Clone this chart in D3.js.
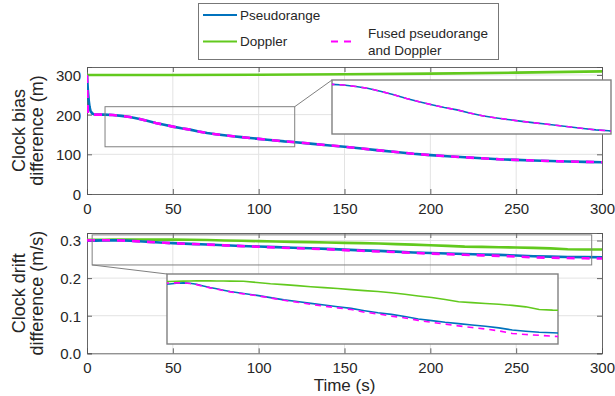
<!DOCTYPE html>
<html><head><meta charset="utf-8">
<script src="https://cdn.jsdelivr.net/npm/d3@7"></script>
<style>body{margin:0;background:#fff}svg{display:block;font-family:"Liberation Sans",Arial,Helvetica,sans-serif}</style>
</head><body><svg id="c" width="615" height="396"></svg>
<script>
// ---------- data ----------
const timeBias = [0,0.5,1,1.5,2,3,4,6,10,15,20,25,30,35,40,45,50,55,60,65,70,75,80,85,90,95,100,105,110,115,120,130,140,150,160,170,180,190,200,210,220,230,240,250,260,270,280,290,300];
const biasPseudorange = [300,262,236,219,210,203,201,200,200,199,196.8,193.8,189.5,184.5,179,174.3,169.8,165.6,162.2,157.6,153.6,150.6,148,145.5,143.3,141.2,139,136.8,134.6,132.6,131.2,127,123,119,114.5,110,106,101.5,98,95,92.5,90,87.5,86,84.5,83,82,81,80];
const biasFused = [300,204,201,200,200,200,200,200,200,199,196.8,193.8,189.5,184.5,179,174.3,169.8,165.6,162.2,157.6,153.6,150.6,148,145.5,143.3,141.2,139,136.8,134.6,132.6,131.2,127,123,119,114.5,110,106,101.5,98,95,92.5,90,87.5,86,84.5,83,82,81,80];
const timeBiasDoppler = [0,50,100,150,200,250,300];
const biasDoppler = [300,300,300.6,301.6,303.2,305.8,309];

const timeDrift = [0,5,10,15,20,25,30,35,40,45,50,60,70,80,90,100,110,120,130,140,150,160,170,180,190,200,210,220,230,240,250,260,270,280,290,300];
const driftPseudorange = [0.2997,0.2998,0.3005,0.3008,0.3004,0.2995,0.298,0.2966,0.2955,0.2942,0.293,0.2912,0.2895,0.2875,0.2855,0.284,0.2823,0.2808,0.2793,0.2778,0.2757,0.2738,0.2724,0.2705,0.2682,0.2668,0.2653,0.2641,0.2628,0.2617,0.2602,0.2583,0.2572,0.2563,0.2558,0.2553];
const driftFused = [0.3005,0.3007,0.3008,0.3008,0.3002,0.2992,0.2977,0.2963,0.2952,0.2939,0.2927,0.2909,0.2892,0.2872,0.2851,0.2834,0.2815,0.2798,0.2783,0.2768,0.2744,0.2728,0.2708,0.2692,0.267,0.2652,0.2637,0.262,0.2606,0.2592,0.2575,0.2552,0.2543,0.2535,0.2527,0.2522];
const driftDoppler = [0.302,0.3021,0.3022,0.3024,0.3025,0.3026,0.3026,0.3026,0.3025,0.3025,0.3024,0.3022,0.3012,0.3,0.2992,0.2983,0.2973,0.2965,0.2957,0.2947,0.2938,0.293,0.2919,0.2905,0.289,0.2876,0.2858,0.2838,0.283,0.2822,0.2815,0.2805,0.2792,0.2768,0.2762,0.276];

const xTicks = [0,50,100,150,200,250,300];
const biasTicks = [0,100,200,300];
const driftTicks = [0,0.1,0.2,0.3];
const legendLabels = ["Pseudorange","Doppler",["Fused pseudorange","and Doppler"]];
const biasLabel = ["Clock bias","difference (m)"];
const driftLabel = ["Clock drift","difference (m/s)"];
const xLabel = "Time (s)";

// zoom regions (data coords) and inset domains
const biasZoomX = [10.5,121], biasZoomY = [119,220], biasInsetY = [126.5,206.4];
const driftZoomX = [3,294], driftZoomY = [0.235,0.315], driftInsetY = [0.2457,0.3088];

// ---------- styles ----------
const BLUE = "#0072BD", GREEN = "#62c91e", MAG = "#ff00ff";
const svg = d3.select("#c");
const axisCol = "#555", textCol = "#262626", gridCol = "#e3e3e3", boxCol = "#808080";

function panel(cfg){
  const {top,bottom,yDomain,yTicks,yFmt,series,label,zoomX,zoomY,insetBox,insetY,connect} = cfg;
  const x = d3.scaleLinear().domain([0,300]).range([87,602]);
  const y = d3.scaleLinear().domain(yDomain).range([bottom,top]);
  const g = svg.append("g");
  // grid
  g.append("g").selectAll("line").data(xTicks.slice(1,-1)).join("line")
    .attr("x1",d=>x(d)).attr("x2",d=>x(d)).attr("y1",top).attr("y2",bottom)
    .attr("stroke",gridCol).attr("stroke-width",1);
  g.append("g").selectAll("line").data(yTicks.slice(1)).join("line")
    .attr("x1",87).attr("x2",602).attr("y1",d=>y(d)).attr("y2",d=>y(d))
    .attr("stroke",gridCol).attr("stroke-width",1);
  // axes (d3 axes, inward ticks)
  const ax = d3.axisBottom(x).tickValues(xTicks).tickSize(-5).tickPadding(10).tickFormat(d3.format("d"));
  const axT = d3.axisTop(x).tickValues(xTicks).tickSize(-5).tickFormat("");
  const ay = d3.axisLeft(y).tickValues(yTicks).tickSize(-5).tickPadding(10).tickFormat(yFmt);
  const ayR = d3.axisRight(y).tickValues(yTicks).tickSize(-5).tickFormat("");
  const gx = g.append("g").attr("transform",`translate(0,${bottom})`).call(ax);
  const gxt = g.append("g").attr("transform",`translate(0,${top})`).call(axT);
  const gy = g.append("g").attr("transform",`translate(87,0)`).call(ay);
  const gyr = g.append("g").attr("transform",`translate(602,0)`).call(ayR);
  [gx,gxt,gy,gyr].forEach(a=>{
    a.select(".domain").attr("stroke",axisCol).attr("stroke-width",0.9);
    a.selectAll(".tick line").attr("stroke",axisCol).attr("stroke-width",0.9);
    a.selectAll("text").attr("fill",textCol).attr("font-size",15).attr("font-family","Liberation Sans, Arial, sans-serif");
  });
  gx.selectAll("text").attr("dy",null).attr("y",20);
  gy.selectAll("text").attr("x",-6).attr("dy","0.36em");
  // clip
  const cid = "clip"+Math.round(top);
  svg.append("clipPath").attr("id",cid).append("rect").attr("x",87).attr("y",top).attr("width",515).attr("height",bottom-top);
  const lines = g.append("g").attr("clip-path",`url(#${cid})`);
  series.forEach(s=>{
    const line = d3.line().x((d,i)=>x(s.t[i])).y(d=>y(d));
    lines.append("path").datum(s.v).attr("d",line).attr("fill","none")
      .attr("stroke",s.color).attr("stroke-width",2.6)
      .attr("stroke-dasharray",s.dash?"8,7":null);
  });
  // y label
  const cy = (top+bottom)/2;
  label.forEach((l,i)=>{
    svg.append("text").attr("transform",`translate(${25+i*18},${cy}) rotate(-90)`)
      .attr("text-anchor","middle").attr("font-size",18).attr("fill",textCol).text(l);
  });
  // zoom rectangle
  const rx0=x(zoomX[0]), rx1=x(zoomX[1]), ry0=y(zoomY[1]), ry1=y(zoomY[0]);
  svg.append("rect").attr("x",rx0).attr("y",ry0).attr("width",rx1-rx0).attr("height",ry1-ry0)
    .attr("fill","none").attr("stroke",boxCol).attr("stroke-width",1);
  // inset
  const [ix0,iy0,ix1,iy1] = insetBox;
  const xi = d3.scaleLinear().domain(zoomX).range([ix0,ix1]);
  const yi = d3.scaleLinear().domain(insetY).range([iy1,iy0]);
  const corner = connect==="tr" ? [rx1,ry0] : [rx0,ry1];
  svg.append("line").attr("x1",corner[0]).attr("y1",corner[1]).attr("x2",ix0).attr("y2",iy0)
    .attr("stroke",boxCol).attr("stroke-width",1);
  svg.append("rect").attr("x",ix0).attr("y",iy0).attr("width",ix1-ix0).attr("height",iy1-iy0)
    .attr("fill","#fff").attr("stroke",boxCol).attr("stroke-width",1.4);
  const icid = "iclip"+Math.round(top);
  svg.append("clipPath").attr("id",icid).append("rect").attr("x",ix0).attr("y",iy0).attr("width",ix1-ix0).attr("height",iy1-iy0);
  const il = svg.append("g").attr("clip-path",`url(#${icid})`);
  series.filter(s=>s.inset).forEach(s=>{
    const line = d3.line().x((d,i)=>xi(s.t[i])).y(d=>yi(d));
    il.append("path").datum(s.v).attr("d",line).attr("fill","none")
      .attr("stroke",s.color).attr("stroke-width",1.6)
      .attr("stroke-dasharray",s.dash?"6,5":null);
  });
}

panel({top:67,bottom:194,yDomain:[0,320],yTicks:biasTicks,yFmt:d3.format("d"),
  series:[
    {t:timeBiasDoppler,v:biasDoppler,color:GREEN,inset:false},
    {t:timeBias,v:biasPseudorange,color:BLUE,inset:true},
    {t:timeBias,v:biasFused,color:MAG,dash:true,inset:true}],
  label:biasLabel,zoomX:biasZoomX,zoomY:biasZoomY,insetBox:[332,80,611,134],insetY:biasInsetY,connect:"tr"});

panel({top:233,bottom:353.3,yDomain:[0,0.32],yTicks:driftTicks,yFmt:d3.format(".1f"),
  series:[
    {t:timeDrift,v:driftDoppler,color:GREEN,inset:true},
    {t:timeDrift,v:driftPseudorange,color:BLUE,inset:true},
    {t:timeDrift,v:driftFused,color:MAG,dash:true,inset:true}],
  label:driftLabel,zoomX:driftZoomX,zoomY:driftZoomY,insetBox:[167,274,558,344],insetY:driftInsetY,connect:"bl"});

svg.append("text").attr("x",344.5).attr("y",391).attr("text-anchor","middle")
  .attr("font-size",17).attr("fill",textCol).text(xLabel);

// legend
const lg = svg.append("g");
lg.append("rect").attr("x",198.5).attr("y",3.5).attr("width",300).attr("height",56)
  .attr("fill","#fff").attr("stroke","#777").attr("stroke-width",1);
const legItems = [
  {label:legendLabels[0],color:BLUE,x:203,y:15},
  {label:legendLabels[1],color:GREEN,x:203,y:41.5},
  {label:legendLabels[2],color:MAG,x:331,y:41.5,dash:true}];
legItems.forEach(it=>{
  lg.append("line").attr("x1",it.x).attr("x2",it.x+(it.dash?26:34)).attr("y1",it.y).attr("y2",it.y)
    .attr("stroke",it.color).attr("stroke-width",2.2).attr("stroke-dasharray",it.dash?"7,6":null);
  const tx = it.dash ? 368 : 240;
  if(Array.isArray(it.label)){
    it.label.forEach((l,i)=>lg.append("text").attr("x",tx).attr("y",it.y-8.5+i*17.5).attr("dy","0.35em")
      .attr("font-size",13.5).attr("fill",textCol).text(l));
  } else {
    lg.append("text").attr("x",tx).attr("y",it.y).attr("dy","0.35em").attr("font-size",13.5).attr("fill",textCol).text(it.label);
  }
});
</script></body></html>
